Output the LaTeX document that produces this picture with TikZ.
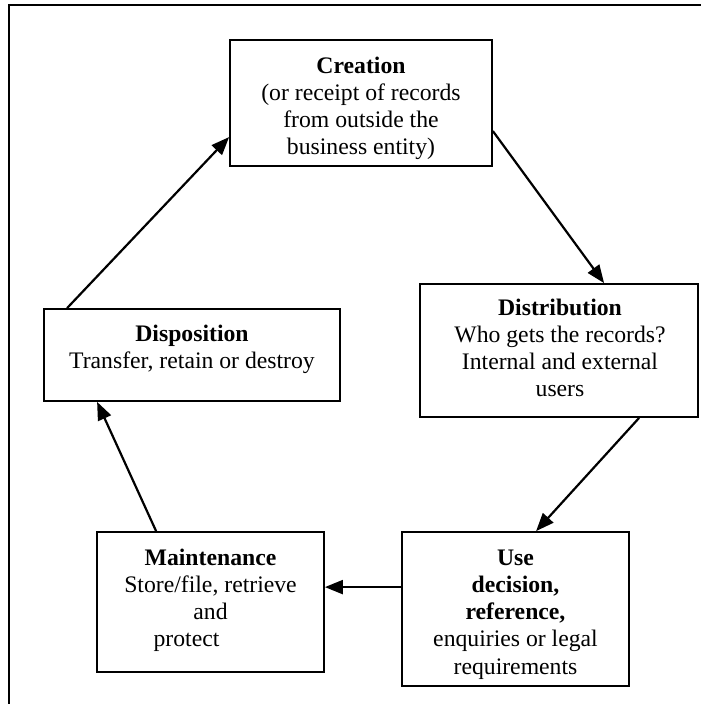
\documentclass[tikz,border=0pt]{standalone}
\usepackage{fontspec}
\setmainfont{Liberation Serif}
\usetikzlibrary{arrows.meta,calc}
\begin{document}
\begin{tikzpicture}[x=1pt,y=-1pt,
  box/.style={draw,line width=1.8pt,rectangle,inner sep=0pt},
  txt/.style={align=center,anchor=base,inner sep=0pt,font=\fontsize{23.7}{27.3}\selectfont},
  flow/.style={line width=2.2pt,-{Triangle[length=18pt,width=14pt]}},
  frame/.style={line width=2pt}]
\useasboundingbox (0,0) rectangle (701,704);
% frame
\coordinate (fbl) at (9,704);
\coordinate (ftl) at (9,5);
\coordinate (ftr) at (701,5);
\draw[frame] (fbl) -- (ftl) -- (ftr);
% boxes
\node[box,minimum width=262,minimum height=126] (cre) at (361,103) {};
\node[box,minimum width=278,minimum height=133] (dis) at (559,350.5) {};
\node[box,minimum width=227,minimum height=154] (use) at (515.5,609) {};
\node[box,minimum width=227,minimum height=140] (mai) at (210.5,602) {};
\node[box,minimum width=296,minimum height=92] (dsp) at (192,355) {};
% texts (anchored at the baseline of the last line)
\node[txt] (tcre) at (361,154.9) {\textbf{Creation}\\(or receipt of records\\from outside the\\business entity)};
\node[txt] (tdis) at (560,396.9) {\textbf{Distribution}\\Who gets the records?\\Internal and external\\users};
\node[txt] (tuse) at (515.5,674.2) {\textbf{Use}\\\textbf{decision,}\\\textbf{reference,}\\enquiries or legal\\requirements};
\node[txt] (tmai) at (210.5,646.9) {\textbf{Maintenance}\\Store/file, retrieve\\and\\protect\rule{48pt}{0pt}};
\node[txt] (tdsp) at (192,368.3) {\textbf{Disposition}\\Transfer, retain or destroy};
% connectors
\draw[flow] ($(cre.north east)+(0,92)$) -- ($(dis.north west)+(185,0)$);
\draw[flow] ($(dis.south west)+(220,0)$) -- ($(use.north west)+(135,0)$);
\draw[flow] ($(use.north west)+(0,56)$) -- ($(mai.north east)+(0,56)$);
\draw[flow] ($(mai.north west)+(60,0)$) -- ($(dsp.south west)+(54,0)$);
\draw[flow] ($(dsp.north west)+(24,0)$) -- ($(cre.north west)+(0,98)$);
\end{tikzpicture}
\end{document}
